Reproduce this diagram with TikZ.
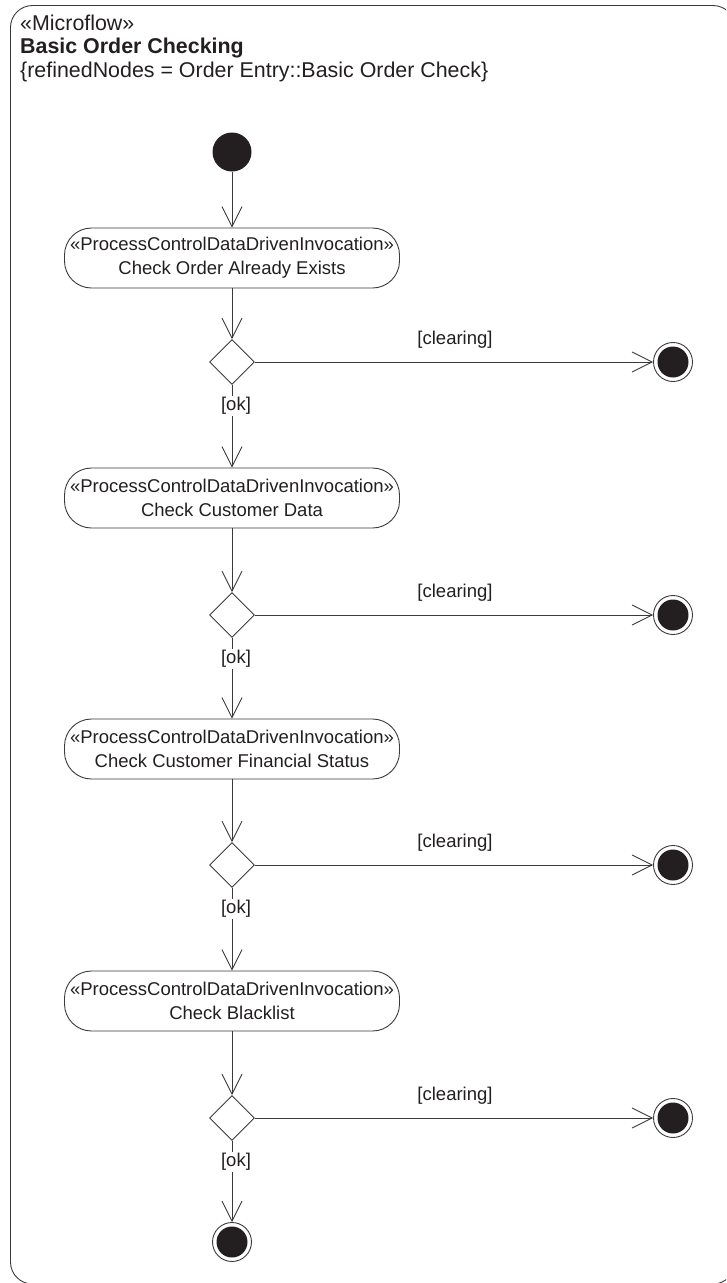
\documentclass[tikz,border=0pt]{standalone}
\usepackage{fontspec}
\setmainfont{Liberation Sans}
\usetikzlibrary{arrows.meta,shapes.geometric}
\definecolor{ink}{HTML}{231F20}
\definecolor{linec}{HTML}{3A3A3A}
\begin{document}
\begin{tikzpicture}[x=1pt,y=-1pt,
  every node/.style={text=ink},
  flow/.style={draw=linec, line width=0.9pt, -{Straight Barb[length=20pt,width=20pt]}},
  action/.style={draw=linec, line width=0.9pt, rounded corners=27pt, minimum width=335pt, minimum height=60pt, align=center, font=\fontsize{18.5}{24}\selectfont, inner sep=0pt},
  decision/.style={diamond, draw=linec, line width=0.9pt, minimum width=45pt, minimum height=45pt, inner sep=0pt},
  initial/.style={circle, fill=ink, minimum size=39pt, inner sep=0pt},
  final/.style={circle, draw=linec, line width=0.9pt, minimum size=39pt, inner sep=0pt, path picture={\fill[ink] (path picture bounding box.center) circle (15.5pt);}},
  lbl/.style={font=\fontsize{18.5}{22}\selectfont, inner sep=1pt},
  title/.style={font=\fontsize{21.4}{24}\selectfont, anchor=base west, inner sep=0pt}
]
\useasboundingbox (0,0) rectangle (726,1283);
\begin{scope}
  \clip (0,0) rectangle (726,1283);
  \draw[linec, line width=0.9pt, rounded corners=22pt] (10.5,5.5) rectangle (735,1284);
\end{scope}

\node[title] (st) at (20,30) {«Microflow»};
\node[title, font=\fontsize{21.4}{24}\selectfont\bfseries] (nm) at (20,53.5) {Basic Order Checking};
\node[title] (rn) at (20,77) {\{refinedNodes = Order Entry::Basic Order Check\}};

\node[initial] (init) at (232,152) {};

\node[action] (a1) at (232,258) {«ProcessControlDataDrivenInvocation»\\Check Order Already Exists};
\node[decision] (d1) at (232,362) {};
\node[final] (f1) at (673,362) {};

\node[action] (a2) at (232,498) {«ProcessControlDataDrivenInvocation»\\Check Customer Data};
\node[decision] (d2) at (232,615) {};
\node[final] (f2) at (673,615) {};

\node[action] (a3) at (232,749) {«ProcessControlDataDrivenInvocation»\\Check Customer Financial Status};
\node[decision] (d3) at (232,865) {};
\node[final] (f3) at (673,865) {};

\node[action] (a4) at (232,1001) {«ProcessControlDataDrivenInvocation»\\Check Blacklist};
\node[decision] (d4) at (232,1118) {};
\node[final] (f4) at (673,1118) {};

\node[final] (fe) at (232,1242) {};

\draw[flow] (init) -- (a1);
\draw[flow] (a1) -- (d1);
\draw[flow] (d1) -- (f1);
\draw[flow] (d1) -- (a2);
\draw[flow] (a2) -- (d2);
\draw[flow] (d2) -- (f2);
\draw[flow] (d2) -- (a3);
\draw[flow] (a3) -- (d3);
\draw[flow] (d3) -- (f3);
\draw[flow] (d3) -- (a4);
\draw[flow] (a4) -- (d4);
\draw[flow] (d4) -- (f4);
\draw[flow] (d4) -- (fe);

\node[lbl, fill=white] (ok1) at (236,406) {[ok]};
\node[lbl, fill=white] (ok2) at (236,659) {[ok]};
\node[lbl, fill=white] (ok3) at (236,909) {[ok]};
\node[lbl, fill=white] (ok4) at (236,1162) {[ok]};

\node[lbl, anchor=base] (c1) at (455,344) {[clearing]};
\node[lbl, anchor=base] (c2) at (455,597) {[clearing]};
\node[lbl, anchor=base] (c3) at (455,847) {[clearing]};
\node[lbl, anchor=base] (c4) at (455,1100) {[clearing]};
\end{tikzpicture}
\end{document}
